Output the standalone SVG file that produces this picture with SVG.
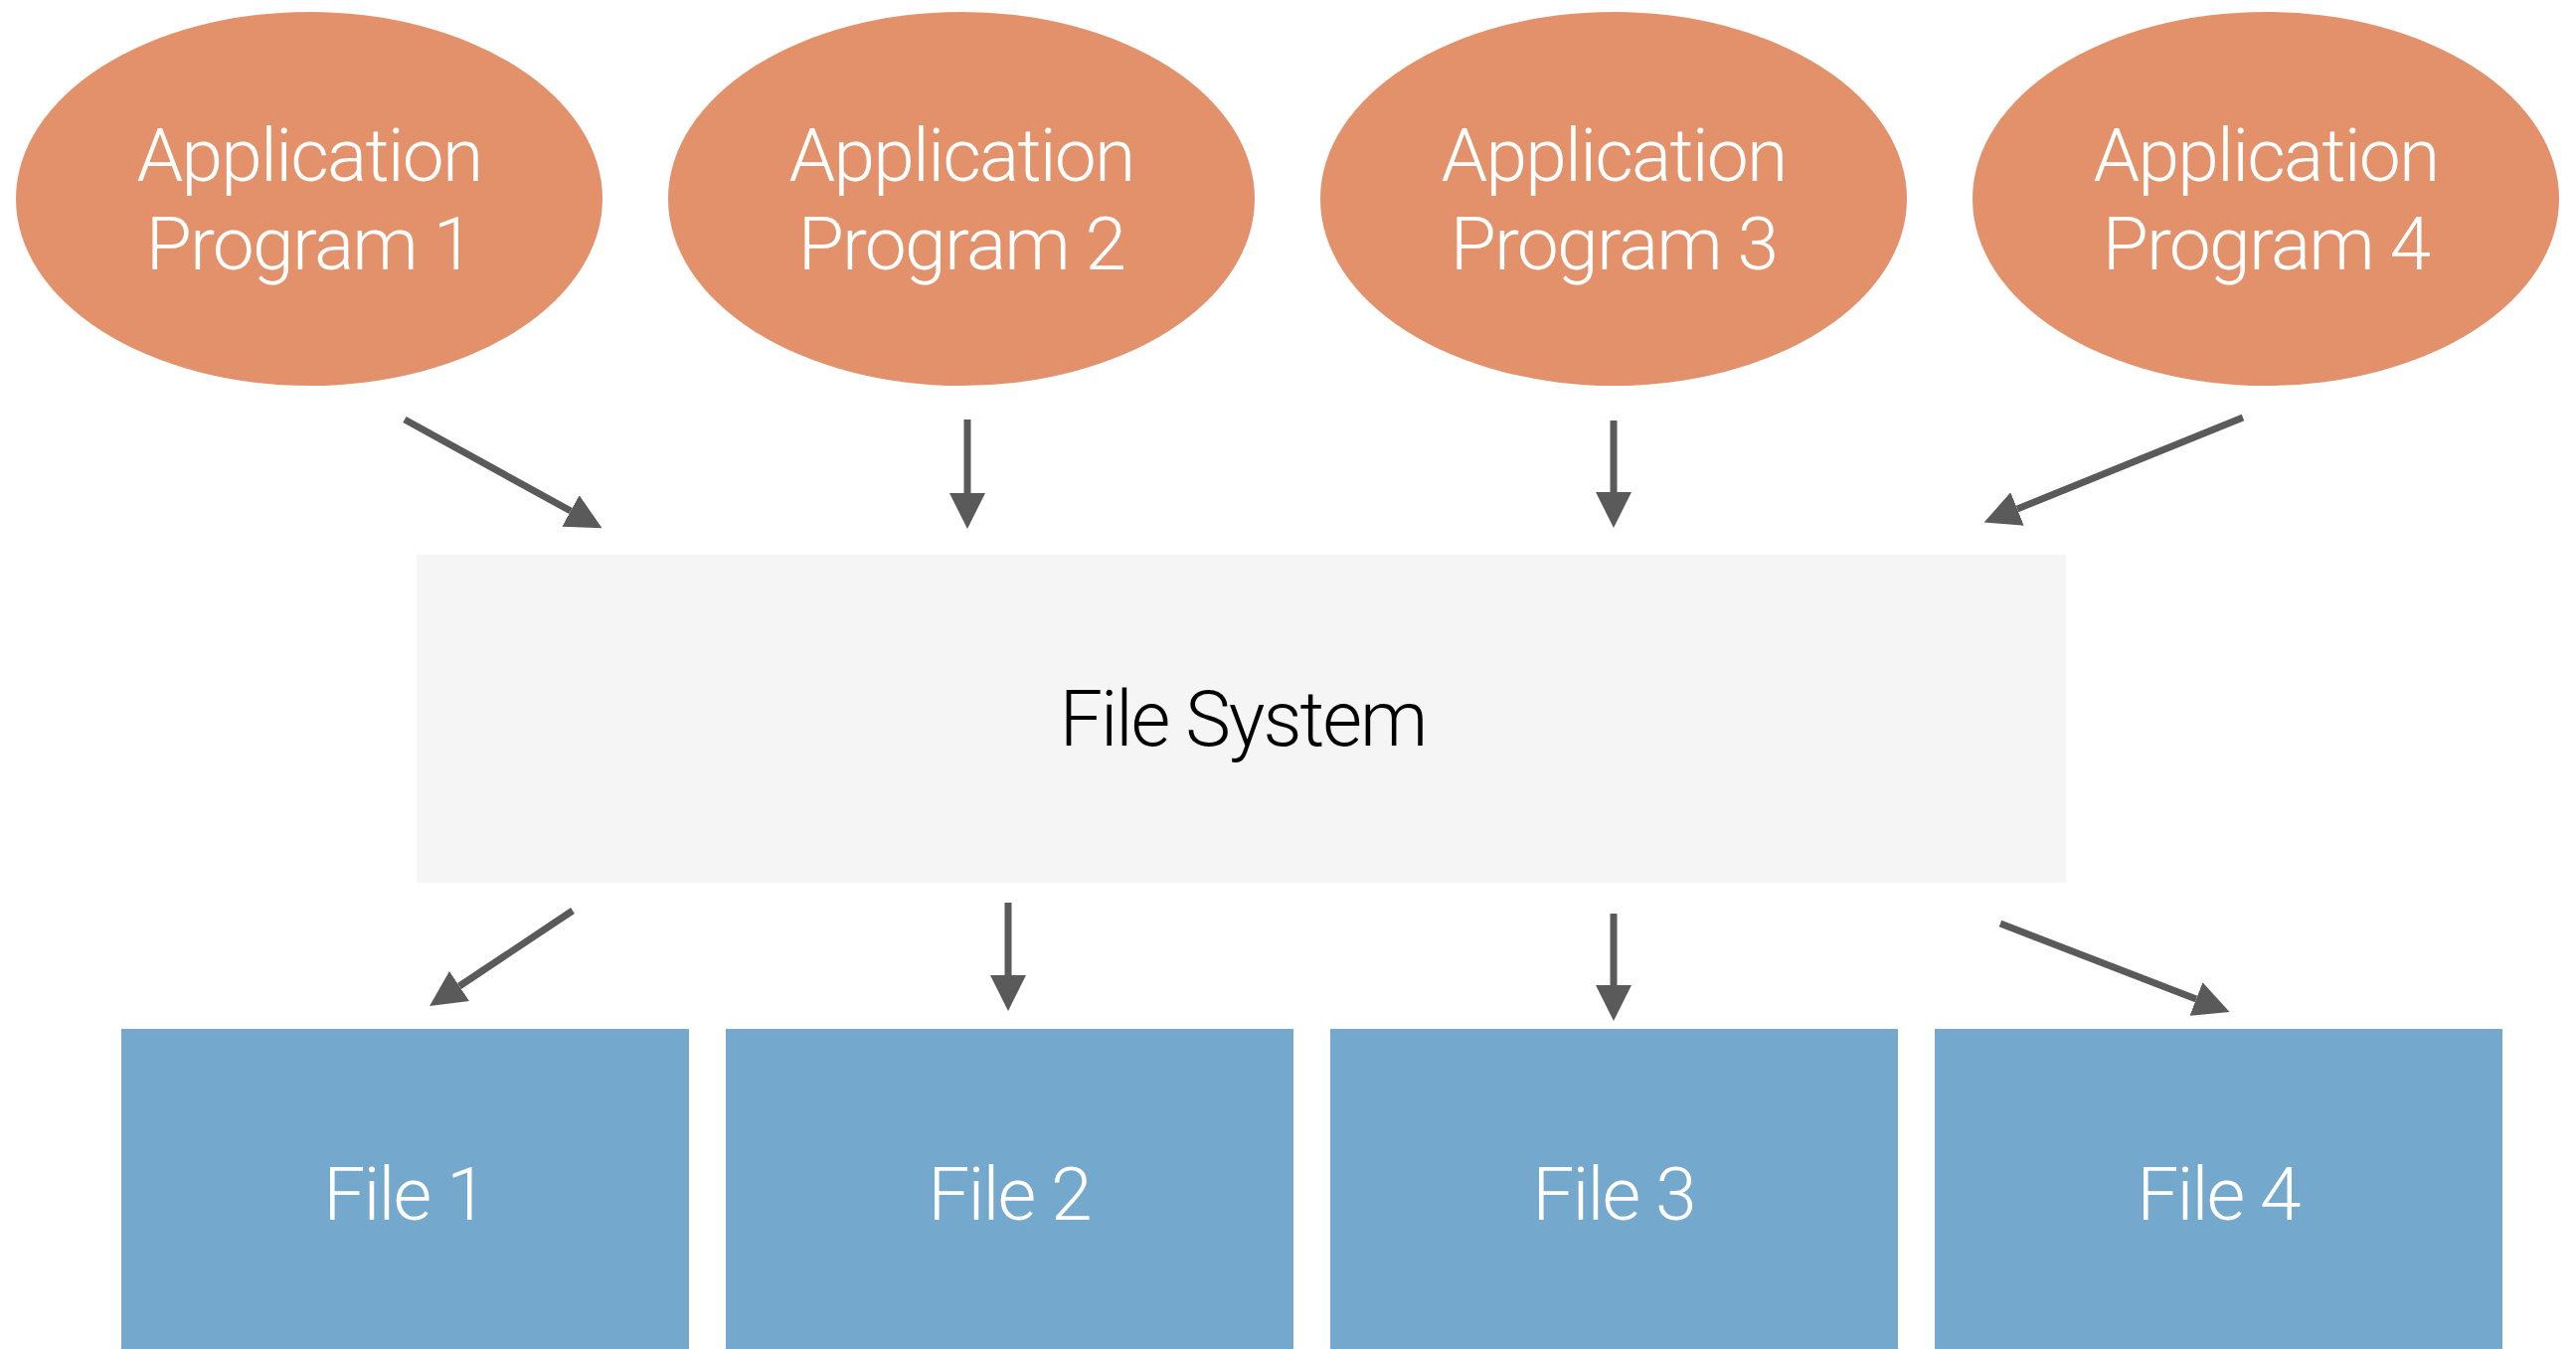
<svg xmlns="http://www.w3.org/2000/svg" width="2591" height="1357" viewBox="0 0 2591 1357">
<style>
  .app { fill: #e3916b; }
  .file { fill: #74a9cd; }
  .fs { fill: #f5f5f5; }
  .lbl { font-family: Roboto, "Liberation Sans", sans-serif; font-weight: 300; text-anchor: middle; }
  .wlbl { fill: #ffffff; font-size: 75px; letter-spacing: -1.8px; }
  .blbl { fill: #000000; font-size: 77px; letter-spacing: -2px; }
  .edge { stroke: #5a5a5a; stroke-width: 7; fill: none; marker-end: url(#arrow); }
</style>
<defs>
  <marker id="arrow" markerUnits="userSpaceOnUse" viewBox="0 0 36 36" markerWidth="36" markerHeight="36" refX="0" refY="18" orient="auto">
    <path d="M0,0 L36,18 L0,36 z" fill="#5a5a5a"/>
  </marker>
</defs>
<rect x="0" y="0" width="2591" height="1357" fill="#ffffff"/>

<g id="app1">
  <ellipse class="app" cx="311" cy="200" rx="295" ry="188"/>
  <text class="lbl wlbl" x="311" y="182">Application</text>
  <text class="lbl wlbl" x="311" y="271">Program 1</text>
</g>
<g id="app2">
  <ellipse class="app" cx="967" cy="200" rx="295" ry="188"/>
  <text class="lbl wlbl" x="967" y="182">Application</text>
  <text class="lbl wlbl" x="967" y="271">Program 2</text>
</g>
<g id="app3">
  <ellipse class="app" cx="1623" cy="200" rx="295" ry="188"/>
  <text class="lbl wlbl" x="1623" y="182">Application</text>
  <text class="lbl wlbl" x="1623" y="271">Program 3</text>
</g>
<g id="app4">
  <ellipse class="app" cx="2279" cy="200" rx="295" ry="188"/>
  <text class="lbl wlbl" x="2279" y="182">Application</text>
  <text class="lbl wlbl" x="2279" y="271">Program 4</text>
</g>

<g id="filesystem">
  <rect class="fs" x="419" y="558" width="1659" height="330"/>
  <text class="lbl blbl" x="1250" y="750">File System</text>
</g>

<g id="file1">
  <rect class="file" x="122" y="1035" width="571" height="330"/>
  <text class="lbl wlbl" x="407" y="1227">File 1</text>
</g>
<g id="file2">
  <rect class="file" x="730" y="1035" width="571" height="330"/>
  <text class="lbl wlbl" x="1015" y="1227">File 2</text>
</g>
<g id="file3">
  <rect class="file" x="1338" y="1035" width="571" height="330"/>
  <text class="lbl wlbl" x="1623" y="1227">File 3</text>
</g>
<g id="file4">
  <rect class="file" x="1946" y="1035" width="571" height="330"/>
  <text class="lbl wlbl" x="2231" y="1227">File 4</text>
</g>

<g id="connectors">
  <line class="edge" x1="407" y1="422" x2="574" y2="514"/>
  <line class="edge" x1="973" y1="422" x2="973" y2="496"/>
  <line class="edge" x1="1623" y1="423" x2="1623" y2="495"/>
  <line class="edge" x1="2256" y1="420" x2="2029" y2="512"/>
  <line class="edge" x1="576" y1="916" x2="462" y2="992"/>
  <line class="edge" x1="1014" y1="908" x2="1014" y2="981"/>
  <line class="edge" x1="1623" y1="919" x2="1623" y2="991"/>
  <line class="edge" x1="2012" y1="929" x2="2209" y2="1005"/>
</g>
</svg>
